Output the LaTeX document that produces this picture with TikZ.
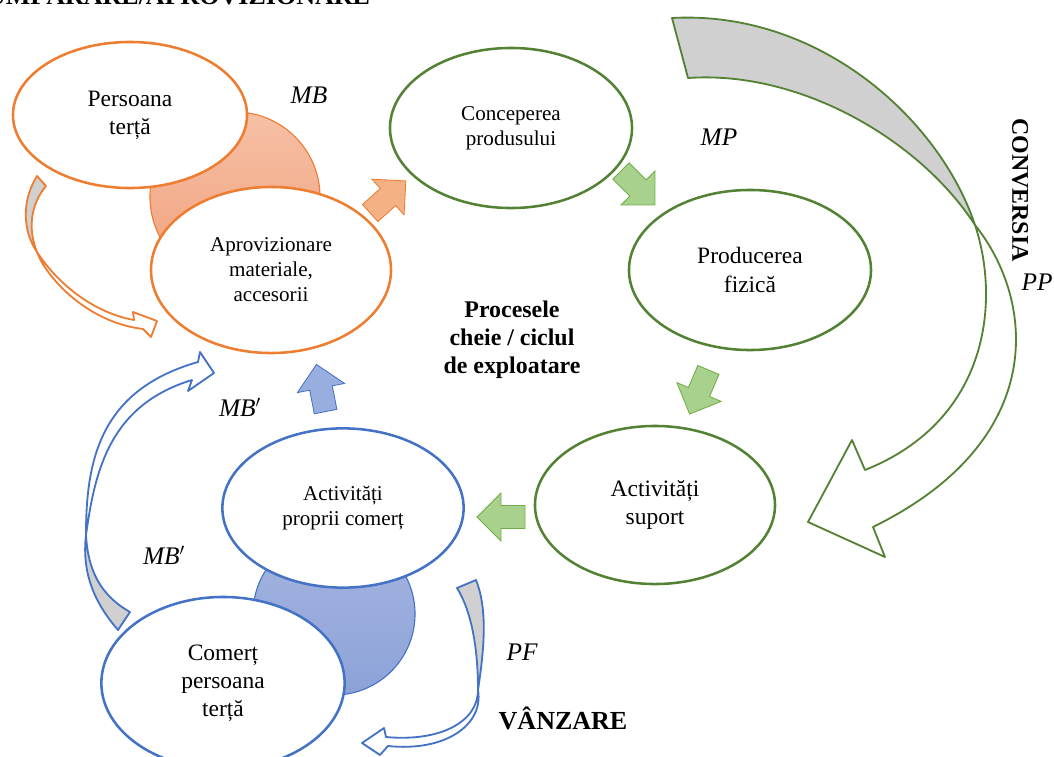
\documentclass[tikz,border=0pt]{standalone}
\usepackage{fontspec}
\setmainfont{Liberation Serif}
\usepackage{tikz}
\usetikzlibrary{shapes.geometric}
\definecolor{ciclorange}{HTML}{ED7D31}
\definecolor{ciclgreen}{HTML}{548235}
\definecolor{ciclblue}{HTML}{4472C4}
\definecolor{tailgray}{HTML}{D0D0D0}
\definecolor{lensotop}{HTML}{F6C0A5}
\definecolor{lensobot}{HTML}{F0A07C}
\definecolor{lensbtop}{HTML}{A6B5E0}
\definecolor{lensbbot}{HTML}{8CA2D8}
\definecolor{blockorange}{HTML}{F4B183}
\definecolor{blockgreen}{HTML}{A9D18E}
\definecolor{blockgreenline}{HTML}{70AD47}
\definecolor{blockblue}{HTML}{98AEDF}

\begin{document}
\begin{tikzpicture}[x=0.025cm, y=-0.025cm,
  proc/.style={ellipse, draw, fill=white, line width=1.8pt, align=center, inner sep=0pt},
  small/.style={font=\fontsize{15}{17.8}\selectfont},
  big/.style={font=\fontsize{16.7}{20}\selectfont},
  lens/.style={circle, line width=0.8pt, inner sep=0pt},
  lbl/.style={font=\fontsize{18}{20}\selectfont\itshape},
  headline/.style={font=\fontsize{18.5}{20}\selectfont\bfseries},
  ribbon/.style={line width=1.3pt, line join=round},
  blockarr/.pic={\path[pic actions] (24,0) -- (0,24) -- (0,11.5) -- (-24,11.5)
    -- (-24,-11.5) -- (0,-11.5) -- (0,-24) -- cycle;}]
\useasboundingbox (0,0) rectangle (1054,757);
\node[lens, draw=ciclorange, top color=lensotop, bottom color=lensobot, minimum size=4.25cm] (lenstop) at (235,197) {};
\node[lens, draw=ciclblue, top color=lensbtop, bottom color=lensbbot, minimum size=4.05cm] (lensbot) at (334,614) {};
\node[proc, draw=ciclorange, big, minimum width=5.85cm, minimum height=3.65cm] (pers) at (130,115) {Persoana\\terță};
\node[proc, draw=ciclorange, small, minimum width=6cm, minimum height=4.15cm] (aprov) at (271,270) {Aprovizionare\\materiale,\\accesorii};
\node[proc, draw=ciclgreen, small, minimum width=6.05cm, minimum height=4cm] (conc) at (511,128) {Conceperea\\produsului};
\node[proc, draw=ciclgreen, big, minimum width=6.05cm, minimum height=4cm] (prod) at (750,270) {Producerea\\fizică};
\node[proc, draw=ciclgreen, big, minimum width=6cm, minimum height=3.95cm] (supp) at (655,505) {Activități\\suport};
\node[proc, draw=ciclblue, small, minimum width=6.03cm, minimum height=3.98cm] (prop) at (343,508) {Activități\\proprii comerț};
\node[proc, draw=ciclblue, big, minimum width=6.08cm, minimum height=4.3cm] (com) at (223,683) {Comerț\\persoana\\terță};
\pic[draw=ciclorange, fill=blockorange, line width=0.6pt, rotate=42] at (388,197) {blockarr};
\pic[draw=blockgreenline, fill=blockgreen, line width=0.6pt, rotate=-45] at (638,188) {blockarr};
\pic[draw=blockgreenline, fill=blockgreen, line width=0.6pt, rotate=-113] at (699,392) {blockarr};
\pic[draw=blockgreenline, fill=blockgreen, line width=0.6pt, rotate=180] at (501,517) {blockarr};
\pic[draw=ciclblue, fill=blockblue, line width=0.6pt, rotate=101] at (321,388) {blockarr};
\path[ribbon, draw=ciclgreen, fill=tailgray] (672,18) .. controls (820,10) and (940,120) .. (975,225)
  .. controls (920,140) and (800,70) .. (688,78) -- cycle;
\path[ribbon, draw=ciclgreen, fill=white] (975,225) .. controls (1000,300) and (990,420) .. (865,470)
  -- (852,440) -- (808,522) -- (885,557) -- (873,527) .. controls (1050,440) and (1035,300) .. (975,225) -- cycle;
\path[ribbon, draw=ciclorange, fill=tailgray] (37,176) .. controls (22,200) and (22,230) .. (37,252)
  .. controls (28,230) and (30,205) .. (46,186) -- cycle;
\path[ribbon, draw=ciclorange, fill=white] (37,252) .. controls (55,280) and (90,312) .. (134,320)
  -- (133,312) -- (157,321) -- (151,337) -- (143,329) .. controls (85,322) and (45,275) .. (37,252) -- cycle;
\path[ribbon, draw=ciclblue, fill=tailgray] (118,630) .. controls (92,600) and (82,570) .. (86,535)
  .. controls (88,570) and (100,595) .. (130,612) -- cycle;
\path[ribbon, draw=ciclblue, fill=white] (86,535) .. controls (86,460) and (100,390) .. (198,362)
  -- (200,352) -- (214,373) -- (188,391) -- (192,380) .. controls (110,405) and (95,470) .. (86,535) -- cycle;
\path[ribbon, draw=ciclblue, fill=tailgray] (457,588) .. controls (472,612) and (478,650) .. (478,690)
  .. controls (484,650) and (488,610) .. (476,580) -- cycle;
\path[ribbon, draw=ciclblue, fill=white] (478,690) .. controls (478,722) and (440,742) .. (386,737)
  -- (384,728) -- (362,743) -- (380,755) -- (388,746) .. controls (445,752) and (484,725) .. (478,690) -- cycle;
\node[lbl] (mb) at (309,95) {MB};
\node[lbl] (mp) at (719,137) {MP};
\node[lbl] (pp) at (1037,282) {PP};
\node[lbl] (mbup) at (240,407) {MB$'$};
\node[lbl] (mbdown) at (164,555) {MB$'$};
\node[lbl] (pf) at (522,652) {PF};
\node[headline] (vanz) at (563,718) {VÂNZARE};
\node[font=\fontsize{17}{20}\selectfont\bfseries, rotate=-90] (conv) at (1020,190) {CONVERSIA};
\node[font=\fontsize{17}{20}\selectfont\bfseries, align=center] (cicl) at (512,340) {Procesele\\cheie / ciclul\\de exploatare};
\node[headline, anchor=base east] (title) at (375,4) {CUMPĂRARE/APROVIZIONARE};
\end{tikzpicture}
\end{document}
